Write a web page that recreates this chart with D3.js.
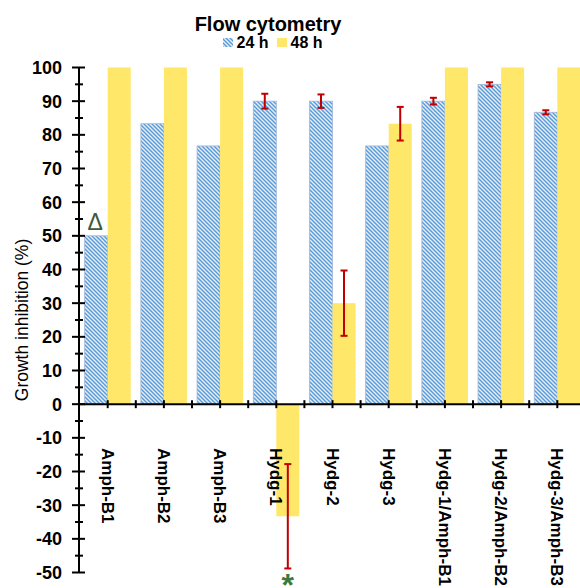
<!DOCTYPE html>
<html>
<head>
<meta charset="utf-8">
<script src="https://cdn.jsdelivr.net/npm/d3@7"></script>
<style>
  html, body { margin: 0; padding: 0; background: #fff; }
  svg { display: block; overflow: hidden; }
  text { font-family: "Liberation Sans", Arial, sans-serif; }
</style>
</head>
<body>
<svg id="chart" width="580" height="588"></svg>
<script>
// ---- data ----
const categories = ["Amph-B1", "Amph-B2", "Amph-B3", "Hydg-1", "Hydg-2", "Hydg-3",
                    "Hydg-1/Amph-B1", "Hydg-2/Amph-B2", "Hydg-3/Amph-B3"];
const seriesNames = ["24 h", "48 h"];
const values24 = [50, 83.3, 76.7, 90, 90, 76.7, 90, 95, 86.7];
const values48 = [100, 100, 100, -33.3, 30, 83.3, 100, 100, 100];
const err24 = [null, null, null, 2.2, 2, null, 1, 0.6, 0.6];
const err48 = [null, null, null, 15.5, 9.7, 5, null, null, null];
const yTicks = [100, 90, 80, 70, 60, 50, 40, 30, 20, 10, 0, -10, -20, -30, -40, -50];
const annotations = [
  { category: "Amph-B1", series: "24 h", label: "\u0394" },
  { category: "Hydg-1", series: "48 h", label: "*" }
];
const titleText = "Flow cytometry";
const yLabel = "Growth inhibition (%)";

// ---- layout ----
const svg = d3.select("#chart");
const axisX = 79;
const y = d3.scaleLinear().domain([-50, 100]).range([572.5, 67.5]);
const x = d3.scaleBand().domain(categories).range([79.6, 79.6 + 9 * 56.2]).padding(0);
const xs = d3.scaleBand().domain(seriesNames).range([0, x.bandwidth()]).paddingInner(0).paddingOuter(0.22);

const blue = "#5b9bd5";
const yellow = "#ffe76a";
const errColor = "#c00000";

const defs = svg.append("defs");
const pat = defs.append("pattern").attr("id", "hatch")
  .attr("patternUnits", "userSpaceOnUse").attr("width", 4).attr("height", 4);
pat.append("rect").attr("width", 4).attr("height", 4).attr("fill", "#e3eef9");
pat.append("path").attr("d", "M-1,-1 L5,5 M3,-1 L5,1 M-1,3 L1,5")
  .attr("stroke", blue).attr("stroke-width", 1.4);

const rows = categories.map((c, i) => ({
  c, i,
  s: [
    { name: "24 h", v: values24[i], e: err24[i] },
    { name: "48 h", v: values48[i], e: err48[i] }
  ]
}));

// bars
const g = svg.append("g");
rows.forEach(r => {
  r.s.forEach(s => {
    const x0 = x(r.c) + xs(s.name);
    g.append("rect")
      .attr("x", x0).attr("width", xs.bandwidth())
      .attr("y", Math.min(y(s.v), y(0)))
      .attr("height", Math.abs(y(s.v) - y(0)))
      .attr("fill", s.name === "24 h" ? "url(#hatch)" : yellow)
      .attr("stroke", s.name === "24 h" ? "#9fb6d6" : "none")
      .attr("stroke-width", 0.8);
  });
});

// error bars
rows.forEach(r => {
  r.s.forEach(s => {
    if (s.e == null) return;
    const cx = x(r.c) + xs(s.name) + xs.bandwidth() / 2;
    const y1 = y(s.v + s.e), y2 = y(s.v - s.e);
    g.append("line").attr("x1", cx).attr("x2", cx).attr("y1", y1).attr("y2", y2)
      .attr("stroke", errColor).attr("stroke-width", 2);
    [y1, y2].forEach(yy => g.append("line")
      .attr("x1", cx - 3.5).attr("x2", cx + 3.5).attr("y1", yy).attr("y2", yy)
      .attr("stroke", errColor).attr("stroke-width", 2));
  });
});

// y axis
const yAxis = svg.append("g");
yAxis.append("line").attr("x1", axisX).attr("x2", axisX).attr("y1", y(100)).attr("y2", y(-50))
  .attr("stroke", "#000").attr("stroke-width", 2);
d3.range(-50, 101, 5).forEach(v => {
  const major = v % 10 === 0;
  yAxis.append("line")
    .attr("x1", axisX - (major ? 7 : 4)).attr("x2", axisX + (major ? 6 : 4))
    .attr("y1", y(v)).attr("y2", y(v))
    .attr("stroke", "#000").attr("stroke-width", 2);
});
yAxis.selectAll("text.tick").data(yTicks).enter().append("text")
  .attr("class", "tick")
  .attr("x", 62).attr("y", d => y(d)).attr("dy", "0.36em")
  .attr("text-anchor", "end")
  .attr("font-size", 18).attr("font-weight", "bold").attr("fill", "#000")
  .text(d => d);

// x axis at zero
const xAxis = svg.append("g");
xAxis.append("line").attr("x1", axisX).attr("x2", 580).attr("y1", y(0)).attr("y2", y(0))
  .attr("stroke", "#000").attr("stroke-width", 2);
categories.forEach(c => {
  [x(c) + x.bandwidth() / 2, x(c) + x.bandwidth()].forEach(tx => {
    xAxis.append("line").attr("x1", tx).attr("x2", tx)
      .attr("y1", y(0) - 4).attr("y2", y(0) + 4)
      .attr("stroke", "#000").attr("stroke-width", 2);
  });
});
xAxis.selectAll("text.cat").data(categories).enter().append("text")
  .attr("class", "cat")
  .attr("transform", d => `translate(${x(d) + x.bandwidth() / 2},448) rotate(90)`)
  .attr("dy", "0.35em")
  .attr("font-size", 17).attr("font-weight", "bold").attr("fill", "#000")
  .text(d => d);

// y label
svg.append("text")
  .attr("transform", `translate(22,${(y(100) + y(-50)) / 2}) rotate(-90)`)
  .attr("dy", "0.35em").attr("text-anchor", "middle")
  .attr("font-size", 17.5).attr("fill", "#000")
  .text(yLabel);

// title
svg.append("text").attr("x", 268).attr("y", 31).attr("text-anchor", "middle")
  .attr("font-size", 20).attr("font-weight", "bold").attr("fill", "#000")
  .text(titleText);

// legend
const legend = svg.append("g");
const legendItems = [
  { name: "24 h", fill: "url(#hatch)", x: 223 },
  { name: "48 h", fill: yellow, x: 277 }
];
legendItems.forEach(li => {
  legend.append("rect").attr("x", li.x).attr("y", 38).attr("width", 10).attr("height", 9)
    .attr("fill", li.fill);
  legend.append("text").attr("x", li.x + 13.5).attr("y", 47.5)
    .attr("font-size", 16).attr("font-weight", "bold").attr("fill", "#000")
    .text(li.name);
});

// annotations
annotations.forEach(a => {
  const i = categories.indexOf(a.category);
  const s = rows[i].s.find(d => d.name === a.series);
  const cx = x(a.category) + xs(a.series) + xs.bandwidth() / 2;
  if (s.v >= 0) {
    const top = y(s.v + (s.e || 0));
    svg.append("text").attr("x", cx - 1).attr("y", top - 6)
      .attr("text-anchor", "middle").attr("font-size", 23)
      .attr("fill", "#3d5a3a").text(a.label);
  } else {
    const bot = y(s.v - (s.e || 0));
    svg.append("text").attr("x", cx).attr("y", bot + 28)
      .attr("text-anchor", "middle").attr("font-size", 32).attr("font-weight", "bold")
      .attr("fill", "#3a7a3a").text(a.label);
  }
});
</script>
</body>
</html>
